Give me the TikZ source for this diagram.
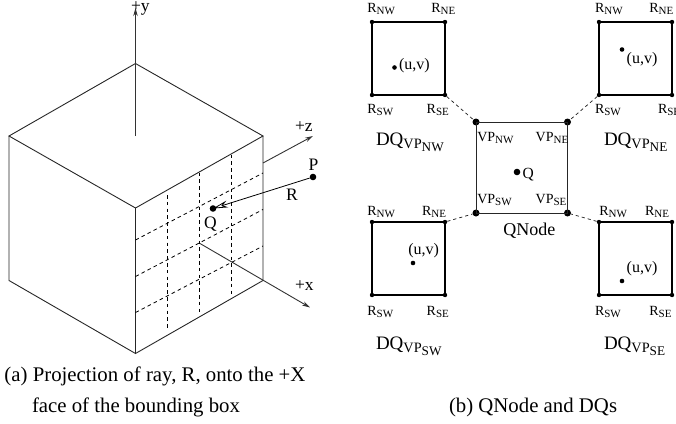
\documentclass[tikz,border=0pt]{standalone}
\usepackage{fontspec}
\setmainfont{Liberation Serif}
\usetikzlibrary{arrows.meta}
\newcommand{\fs}[1]{\fontsize{#1}{#1}\selectfont}
\newcommand{\rl}[2]{{\fs{14}#1\raisebox{-2.2pt}{\fs{11}#2}}}
\newcommand{\dq}[1]{{\fs{19}DQ\raisebox{-3.5pt}{\fs{14.3}VP\raisebox{-2.5pt}{\fs{13.2}#1}}}}
\tikzset{
  x=1pt,y=-1pt,
  edge/.style={draw=black!85,line width=0.9pt},
  sq/.style={draw=black,line width=1.05pt},
  sqh/.style={draw=black,line width=1.5pt},
  gridl/.style={draw=black,line width=0.8pt,dash pattern=on 3.6pt off 3.2pt},
  link/.style={draw=black!85,line width=0.75pt,dash pattern=on 3.2pt off 3pt},
  axis/.style={draw=black!80,line width=0.9pt,-{Stealth[length=8pt,width=4.5pt]}},
  ray/.style={draw=black,line width=0.8pt,-{Stealth[open,length=15pt,width=7pt]}},
  lab/.style={anchor=base west,inner sep=0pt,outer sep=0pt},
  big/.style={lab,font=\fs{17.5}},
  uv/.style={lab,font=\fs{16}},
  captxt/.style={lab,font=\fs{20.8}},
  nametxt/.style={lab,font=\fs{18}},
  cdot/.style={circle,fill=black,inner sep=0pt,minimum size=4.4pt},
  vdot/.style={circle,fill=black,inner sep=0pt,minimum size=7pt},
  pdot/.style={circle,fill=black,inner sep=0pt,minimum size=6.6pt},
  udot/.style={circle,fill=black,inner sep=0pt,minimum size=4.6pt},
}
\begin{document}
\begin{tikzpicture}
\useasboundingbox (0,0) rectangle (676,423);
% cube
\coordinate (top) at (135.5,63.5);
\coordinate (left) at (9,136);
\coordinate (mid) at (135.5,208);
\coordinate (right) at (263,136);
\coordinate (br) at (263,280.5);
\coordinate (bot) at (135.5,353.5);
\coordinate (bl) at (9,280.5);
\coordinate (yo) at (135.5,136);
\coordinate (yt) at (135.5,8);
\coordinate (zo) at (263,163);
\coordinate (zt) at (313,136);
\coordinate (xo) at (200,243.5);
\coordinate (xt) at (310,307.5);
\draw[edge] (top)--(left)--(mid)--(right)--cycle;
\draw[edge] (left)--(bl)--(bot)--(br)--(right);
\draw[edge] (mid)--(bot);
\draw[axis] (yo)--(yt);
\draw[axis] (zo)--(zt);
\draw[axis] (xo)--(xt);
% grid
\foreach \n/\x/\a/\b in {a/167.7/195/330,b/199.6/172.5/313.5,c/231.2/154.5/297}{
  \coordinate (v\n1) at (\x,\a); \coordinate (v\n2) at (\x,\b);
  \draw[gridl] (v\n1)--(v\n2);}
\foreach \n/\a/\b in {a/240/173,b/276.5/209.5,c/312.5/246}{
  \coordinate (h\n1) at (135.5,\a); \coordinate (h\n2) at (263,\b);
  \draw[gridl] (h\n1)--(h\n2);}
\node[pdot] (P) at (313,177) {};
\node[pdot] (Q) at (213,208.5) {};
\draw[ray] (P)--(Q.center);
\node[big] (ly) at (131,12) {+y};
\node[big] (lz) at (295,131) {+z};
\node[big] (lp) at (308.5,170) {P};
\node[big] (lr) at (286,200) {R};
\node[big] (lq) at (204,228) {Q};
\node[big] (lx) at (295,290) {+x};
\node[captxt] (c1) at (4.5,381) {(a) Projection of ray, R, onto the +X};
\node[captxt] (c2) at (32,412.7) {face of the bounding box};
\node[captxt] (c3) at (449,412.7) {(b) QNode and DQs};
% squares
\foreach \n/\x/\y in {A/372/22,B/599/22,C/372/222,D/599/222}{
  \node[cdot] (\n nw) at (\x,\y) {};
  \node[cdot] (\n ne) at (\x+73,\y) {};
  \node[cdot] (\n sw) at (\x,\y+73) {};
  \node[cdot] (\n se) at (\x+73,\y+73) {};
  \draw[sq] (\n nw.center)--(\n ne.center)--(\n se.center);
  \draw[sqh] (\n se.center)--(\n sw.center)--(\n nw.center);
}
\node[vdot] (Vnw) at (476,122) {};
\node[vdot] (Vne) at (567.5,122) {};
\node[vdot] (Vsw) at (476,213) {};
\node[vdot] (Vse) at (567.5,213) {};
\draw[edge] (Vnw.center)--(Vne.center)--(Vse.center)--(Vsw.center)--cycle;
\draw[link] (Ase)--(Vnw);
\draw[link] (Bsw)--(Vne);
\draw[link] (Cne)--(Vsw);
\draw[link] (Dnw)--(Vse);
\node[pdot] (qd) at (517,172) {};
\node[udot] (ua) at (394.5,67.5) {};
\node[udot] (ub) at (622,49.5) {};
\node[udot] (uc) at (413,263) {};
\node[udot] (ud) at (622,281) {};
% labels
\node[lab] (a1) at (367.3,12.5) {\rl{R}{NW}};
\node[lab] (a2) at (431.3,12.5) {\rl{R}{NE}};
\node[lab] (a3) at (367.3,113) {\rl{R}{SW}};
\node[lab] (a4) at (426.7,113) {\rl{R}{SE}};
\node[lab] (a5) at (376,145) {\dq{NW}};
\node[uv] (a6) at (399,69) {(u,v)};
\node[lab] (b1) at (595,12.5) {\rl{R}{NW}};
\node[lab] (b2) at (649.3,12.5) {\rl{R}{NE}};
\node[lab] (b3) at (595,113) {\rl{R}{SW}};
\node[lab] (b4) at (658,113) {\rl{R}{SE}};
\node[lab] (b5) at (604,145) {\dq{NE}};
\node[uv] (b6) at (626.7,63) {(u,v)};
\node[lab] (c1a) at (367.3,215.7) {\rl{R}{NW}};
\node[lab] (c2a) at (422,215.7) {\rl{R}{NE}};
\node[lab] (c3a) at (367.3,315.7) {\rl{R}{SW}};
\node[lab] (c4a) at (426.7,315.7) {\rl{R}{SE}};
\node[lab] (c5a) at (376,349) {\dq{SW}};
\node[uv] (c6a) at (408.3,254.3) {(u,v)};
\node[lab] (d1) at (599.3,215.7) {\rl{R}{NW}};
\node[lab] (d2) at (645,215.7) {\rl{R}{NE}};
\node[lab] (d3) at (595,315.7) {\rl{R}{SW}};
\node[lab] (d4) at (649.3,315.7) {\rl{R}{SE}};
\node[lab] (d5) at (604,349) {\dq{SE}};
\node[uv] (d6) at (626.7,272.3) {(u,v)};
\node[lab] (v1) at (477.3,141) {\rl{VP}{NW}};
\node[lab] (v2) at (535.7,141) {\rl{VP}{NE}};
\node[lab] (v3) at (477.3,203.7) {\rl{VP}{SW}};
\node[lab] (v4) at (535.7,203.7) {\rl{VP}{SE}};
\node[lab,font=\fs{15.5}] (qq) at (522.7,178) {Q};
\node[nametxt] (qn) at (503.3,235) {QNode};
\end{tikzpicture}
\end{document}
